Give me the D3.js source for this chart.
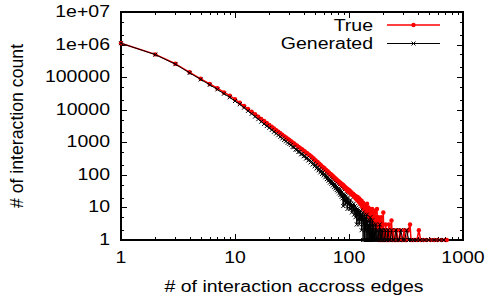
<!DOCTYPE html>
<html>
<head>
<meta charset="utf-8">
<script src="https://cdn.jsdelivr.net/npm/d3@7"></script>
<style>
  html, body { margin: 0; padding: 0; background: #fff; }
  svg { display: block; }
  text { font-family: "Liberation Sans", Arial, Helvetica, sans-serif; fill: #000; }
</style>
</head>
<body>
<svg id="chart" width="487" height="299"></svg>
<script>
// counts for n = 1, 2, 3 ... (dense part), then [n, count] pairs for the sparse tail
const trueHead = [
  1100000, 500000, 257000, 141000, 89100, 61700, 45700, 33900, 26900, 20900,
  16300, 12950, 10500, 8650, 7220, 6100, 5200, 4480, 3890, 3400,
  2990, 2650, 2360, 2110, 1900, 1710, 1550, 1410, 1280, 1175,
  1085, 985, 921, 840, 792, 721, 684, 627, 598, 545,
  524, 481, 462, 425, 412, 376, 361, 327, 318, 286,
  279, 251, 247, 221, 219, 197, 195, 176, 174, 158,
  159, 143, 141, 127, 129, 116, 117, 104, 107, 95,
  97, 86, 90, 79, 82, 72, 75, 66, 69, 61,
  64, 57, 60, 52, 55, 48, 52, 45, 49, 42,
  45, 38, 42, 36, 39, 34, 37, 31, 35, 30,
  33, 28, 31, 26, 29, 25, 27, 24, 26, 22,
  24, 21, 23, 19, 22, 18, 20, 17, 21, 16,
  18, 15, 19, 14, 17, 13, 15, 12, 16, 11,
  13, 10, 14, 9, 12, 10, 8, 11, 9, 12,
  7, 10, 8, 13, 6, 9, 7, 10, 5, 8
];
const trueTail = [
  [151, 6], [152, 9], [153, 4], [154, 7], [155, 5], [156, 8], [157, 3], [158, 6], [159, 4], [160, 9],
  [162, 5], [163, 3], [164, 6], [165, 2], [166, 4], [168, 7], [169, 8], [170, 3], [172, 5], [173, 2],
  [175, 4], [176, 9], [178, 3], [180, 2], [181, 5], [183, 1], [185, 4], [187, 2], [189, 3], [190, 1],
  [192, 5], [194, 2], [196, 1], [198, 3], [200, 7], [202, 1], [205, 2], [207, 1], [210, 3], [213, 1],
  [216, 2], [220, 1], [224, 3], [228, 1], [232, 2], [236, 4], [240, 1], [245, 2], [250, 1], [256, 1],
  [262, 2], [268, 1], [275, 1], [280, 2], [288, 1], [295, 1], [305, 2], [312, 1], [320, 1], [330, 2],
  [343, 3], [350, 1], [365, 1], [380, 1], [395, 1], [410, 2], [425, 1], [450, 1], [480, 1], [520, 1],
  [560, 1], [600, 1], [650, 1], [700, 1], [720, 1]
];
const genHead = [
  1100000, 490000, 250000, 135000, 85000, 58000, 42000, 31000, 24000, 18500,
  14700, 11530, 9210, 7480, 6140, 5120, 4300, 3660, 3150, 2765,
  2390, 2100, 1860, 1645, 1470, 1310, 1180, 1070, 965, 892,
  830, 715, 702, 596, 590, 505, 510, 428, 440, 372,
  385, 316, 333, 276, 291, 241, 258, 208, 224, 183,
  199, 157, 172, 137, 151, 119, 135, 106, 121, 96,
  108, 84, 97, 74, 86, 66, 77, 58, 70, 53,
  63, 47, 57, 42, 52, 38, 47, 34, 43, 31,
  38, 27, 36, 24, 33, 21, 30, 19, 11, 26,
  15, 24, 12, 22, 14, 20, 9, 19, 12, 15,
  14, 9, 17, 11, 13, 7, 12, 10, 8, 13,
  6, 9, 11, 5, 8, 10, 3, 7, 9, 4,
  8, 6, 3, 7, 5, 8, 4, 6, 2, 5,
  4, 7, 1, 5, 3, 6, 1, 4, 2, 5,
  1, 3, 6, 1, 2, 4, 1, 3, 2, 1
];
const genTail = [
  [151, 4], [152, 1], [153, 2], [154, 5], [155, 1], [156, 3], [157, 1], [158, 2], [159, 1], [160, 4],
  [161, 1], [162, 2], [164, 1], [165, 3], [167, 1], [168, 2], [170, 1], [172, 3], [174, 1], [176, 2],
  [178, 1], [181, 2], [183, 1], [186, 3], [188, 1], [191, 2], [194, 1], [197, 2], [200, 1], [204, 1],
  [208, 2], [212, 1], [216, 1], [220, 2], [225, 1], [230, 1], [236, 2], [242, 1], [250, 1], [258, 2],
  [266, 1], [275, 1], [285, 2], [296, 1], [308, 1], [320, 2], [335, 1], [350, 1], [370, 1], [390, 1],
  [420, 1], [460, 1], [500, 1], [560, 1], [620, 1], [680, 1]
];
const xTickValues = [1, 10, 100, 1000];
const yTickValues = [1, 10, 100, 1000, 10000, 100000, 1000000, 10000000];
const yTickLabels = ["1", "10", "100", "1000", "10000", "100000", "1e+06", "1e+07"];
const yMinorSteps = [2, 5];
const seriesNames = ["True", "Generated"];
const seriesColors = ["#ff0000", "#000000"];

const svg = d3.select("#chart");
const plotL = 121, plotR = 463, plotT = 12, plotB = 240;
const FONT = 19.5, SQUASH = 0.82;

const x = d3.scaleLog().domain([1, 1000]).range([plotL, plotR]);
const y = d3.scaleLog().domain([1, 1e7]).range([plotB, plotT]);

const toPoints = (head, tail) => head.map((v, i) => [i + 1, v]).concat(tail);
const series = [toPoints(trueHead, trueTail), toPoints(genHead, genTail)];

// text is wide and flat in the original
function label(g, tx, ty, str, anchor) {
  return g.append("text")
    .attr("transform", "translate(" + tx + "," + ty + ") scale(1," + SQUASH + ")")
    .attr("text-anchor", anchor)
    .style("font-size", FONT + "px")
    .text(str);
}

// ticks, mirrored on all four sides
const ticks = svg.append("g").attr("stroke", "#000").attr("stroke-width", 1);
x.ticks().forEach(t => {
  const major = xTickValues.includes(t);
  const len = major ? 6 : 3;
  const px = Math.round(x(t)) + 0.5;
  ticks.append("line").attr("x1", px).attr("x2", px).attr("y1", plotB).attr("y2", plotB - len);
  ticks.append("line").attr("x1", px).attr("x2", px).attr("y1", plotT).attr("y2", plotT + len);
});
y.ticks().forEach(t => {
  const k = Math.round(t / Math.pow(10, Math.floor(Math.log10(t) + 1e-9)));
  const major = yTickValues.includes(t);
  if (!major && !yMinorSteps.includes(k)) return;
  const len = major ? 6 : 3;
  const py = Math.round(y(t)) + 0.5;
  ticks.append("line").attr("y1", py).attr("y2", py).attr("x1", plotL).attr("x2", plotL + len);
  ticks.append("line").attr("y1", py).attr("y2", py).attr("x1", plotR).attr("x2", plotR - len);
});

svg.append("rect")
  .attr("x", plotL).attr("y", plotT)
  .attr("width", plotR - plotL).attr("height", plotB - plotT)
  .attr("fill", "none").attr("stroke", "#000").attr("stroke-width", 2);

// tick labels
const labels = svg.append("g");
xTickValues.forEach(t => label(labels, x(t), 263, String(t), "middle"));
yTickValues.forEach((t, i) => label(labels, 110, y(t) + 5, yTickLabels[i], "end"));

label(svg, (plotL + plotR) / 2 + 2, 292, "# of interaction accross edges", "middle");
svg.append("text")
  .attr("transform", "translate(23," + ((plotT + plotB) / 2) + ") rotate(-90)")
  .attr("text-anchor", "middle")
  .style("font-size", "17.7px")
  .text("# of interaction count");

// markers
function drawMarker(g, i, px, py) {
  if (i === 0) {
    g.append("circle").attr("cx", px).attr("cy", py).attr("r", 2.2).attr("fill", seriesColors[0]);
  } else {
    const s = 2;
    g.append("path")
      .attr("d", "M" + (px - s) + "," + (py - s) + "L" + (px + s) + "," + (py + s) +
                 "M" + (px - s) + "," + (py + s) + "L" + (px + s) + "," + (py - s))
      .attr("stroke", seriesColors[1]).attr("stroke-width", 1).attr("fill", "none");
  }
}

const line = d3.line().x(d => x(d[0])).y(d => y(d[1]));

series.forEach((pts, i) => {
  const g = svg.append("g");
  g.append("path")
    .attr("d", line(pts))
    .attr("fill", "none")
    .attr("stroke", seriesColors[i])
    .attr("stroke-width", i === 0 ? 1.5 : 1)
    .attr("stroke-linejoin", "round");
  pts.forEach(p => drawMarker(g, i, x(p[0]), y(p[1])));
});

// legend
const legendY = [25, 43.5];
seriesNames.forEach((name, i) => {
  const g = svg.append("g");
  label(g, 373, legendY[i] + 5.5, name, "end");
  g.append("line")
    .attr("x1", 387).attr("x2", 440)
    .attr("y1", legendY[i]).attr("y2", legendY[i])
    .attr("stroke", seriesColors[i]).attr("stroke-width", i === 0 ? 1.5 : 1);
  drawMarker(g, i, 413.5, legendY[i]);
});
</script>
</body>
</html>
